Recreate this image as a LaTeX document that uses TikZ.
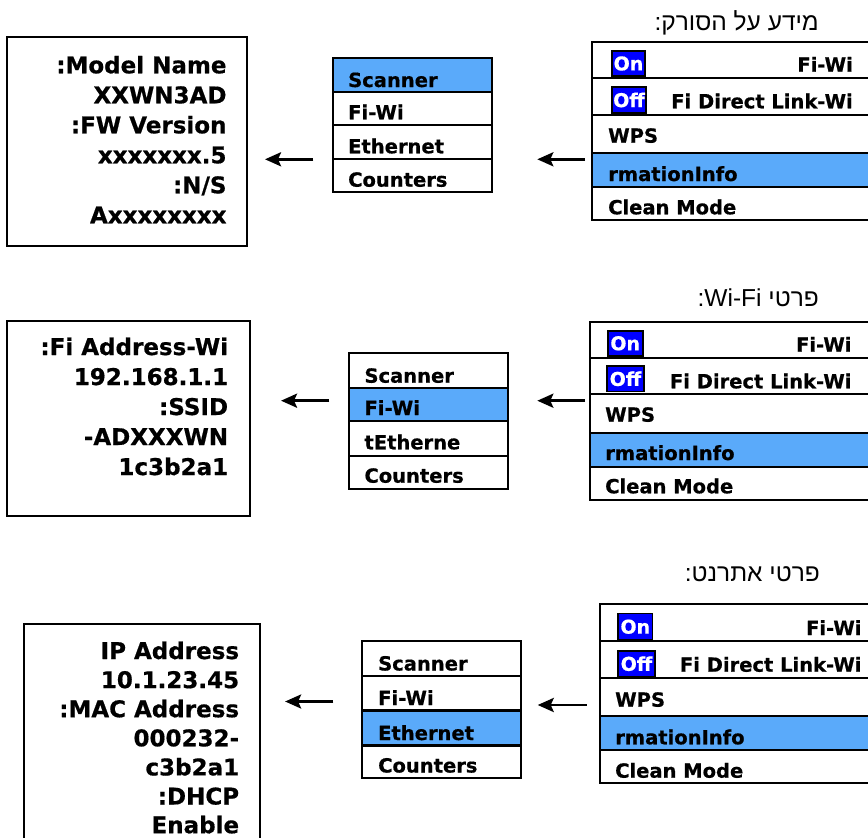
\documentclass[tikz,border=0pt]{standalone}
\usepackage{fontspec}
\setmainfont{DejaVu Sans}[BoldFeatures={FakeBold=0.6}]
\newfontfamily\hebfont[Script=Hebrew]{Liberation Sans}
\TeXXeTstate=1
\usetikzlibrary{arrows.meta}
\definecolor{hl}{RGB}{90,170,250}
\tikzset{
  cell/.style={draw=black,line width=2.3pt,inner sep=0pt,outer sep=0pt},
  mt/.style={inner sep=0pt,font=\bfseries\fontsize{19.5}{20}\selectfont},
  lt/.style={inner sep=0pt,font=\bfseries\fontsize{23}{24}\selectfont,anchor=base east},
  ttl/.style={inner sep=0pt,font=\hebfont\fontsize{24.5}{26}\selectfont,anchor=base east},
  onoff/.style={fill=blue,draw=black,line width=1.6pt,text=white,inner sep=0pt,
    font=\bfseries\fontsize{19}{19}\selectfont},
  arr/.style={line width=2.8pt,-{Stealth[length=16pt,width=14pt,inset=3pt]}}
}
\newcommand\rbox[6]{\node[cell,#6,anchor=north west,minimum width={#4-#2},minimum height={#5-#3}] (#1) at (#2,#3) {};}
\begin{document}
\begin{tikzpicture}[x=1pt,y=-1pt]
\useasboundingbox (0,0) rectangle (868,838);
% ================= Panel 1 =================
\node[ttl] (t1) at (819,30) {\beginR מידע על הסורק:\endR};
\rbox{r1a}{592}{42}{880}{78}{fill=white}
\rbox{r1b}{592}{78}{880}{115}{fill=white}
\rbox{r1c}{592}{115}{880}{153}{fill=white}
\rbox{r1d}{592}{153}{880}{187}{fill=hl}
\rbox{r1e}{592}{187}{880}{220}{fill=white}
\node[onoff,minimum width=33,minimum height=25] (on1) at (628.5,63.5) {On};
\node[onoff,minimum width=34,minimum height=26] (off1) at (629,100) {Off};
\node[mt,anchor=base east] (r1at) at (853,71.7) {Fi-Wi};
\node[mt,anchor=base east] (r1bt) at (853,108.3) {Fi Direct Link-Wi};
\node[mt,anchor=base west] (r1ct) at (608,142.7) {WPS};
\node[mt,anchor=base west] (r1dt) at (608,181) {rmationInfo};
\node[mt,anchor=base west] (r1et) at (608,214.3) {Clean Mode};
% middle
\rbox{m1a}{332.7}{57.7}{492.3}{91.7}{fill=hl}
\rbox{m1b}{332.7}{91.7}{492.3}{125}{fill=white}
\rbox{m1c}{332.7}{125}{492.3}{159}{fill=white}
\rbox{m1d}{332.7}{159}{492.3}{192.3}{fill=white}
\node[mt,anchor=base west] (m1at) at (348,87) {Scanner};
\node[mt,anchor=base west] (m1bt) at (348,119.3) {Fi-Wi};
\node[mt,anchor=base west] (m1ct) at (348,153.3) {Ethernet};
\node[mt,anchor=base west] (m1dt) at (348,186.7) {Counters};
% left
\rbox{l1}{6.7}{37.3}{247.3}{246}{fill=white}
\node[lt] (l1a) at (226.7,73.3) {:Model Name};
\node[lt] (l1b) at (226.7,103.3) {XXWN3AD};
\node[lt] (l1c) at (226.7,133.3) {:FW Version};
\node[lt] (l1d) at (226.7,163.3) {xxxxxxx.5};
\node[lt] (l1e) at (226.7,193.3) {:N/S};
\node[lt] (l1f) at (226.7,223.3) {Axxxxxxxx};
% arrows
\coordinate (a1s) at (585,159.3);
\coordinate (a1e) at (537.3,159.3);
\coordinate (b1s) at (313.3,159.3);
\coordinate (b1e) at (265,159.3);
\draw[arr] (a1s) -- (a1e);
\draw[arr] (b1s) -- (b1e);
% ================= Panel 2 =================
\node[ttl] (t2) at (819,306.7) {\beginR פרטי \beginL Wi-Fi\endL:\endR};
\rbox{r2a}{590}{321.7}{880}{357.7}{fill=white}
\rbox{r2b}{590}{357.7}{880}{394.3}{fill=white}
\rbox{r2c}{590}{394.3}{880}{432.7}{fill=white}
\rbox{r2d}{590}{432.7}{880}{466.7}{fill=hl}
\rbox{r2e}{590}{466.7}{880}{500}{fill=white}
\node[onoff,minimum width=35,minimum height=25] (on2) at (625.2,343.3) {On};
\node[onoff,minimum width=37,minimum height=25.7] (off2) at (625.5,378.8) {Off};
\node[mt,anchor=base east] (r2at) at (851.7,351.7) {Fi-Wi};
\node[mt,anchor=base east] (r2bt) at (851.7,388.3) {Fi Direct Link-Wi};
\node[mt,anchor=base west] (r2ct) at (605,421.7) {WPS};
\node[mt,anchor=base west] (r2dt) at (605,460) {rmationInfo};
\node[mt,anchor=base west] (r2et) at (605,493.3) {Clean Mode};
% middle
\rbox{m2a}{349.3}{353.3}{508.3}{388.3}{fill=white}
\rbox{m2b}{349.3}{388.3}{508.3}{421}{fill=hl}
\rbox{m2c}{349.3}{421}{508.3}{455.7}{fill=white}
\rbox{m2d}{349.3}{455.7}{508.3}{489}{fill=white}
\node[mt,anchor=base west] (m2at) at (364.3,382.7) {Scanner};
\node[mt,anchor=base west] (m2bt) at (364.3,415) {Fi-Wi};
\node[mt,anchor=base west] (m2ct) at (364.3,449.3) {tEtherne};
\node[mt,anchor=base west] (m2dt) at (364.3,482.7) {Counters};
% left
\rbox{l2}{7.3}{320.7}{250}{516}{fill=white}
\node[lt] (l2a) at (228.3,355) {:Fi Address-Wi};
\node[lt] (l2b) at (228.3,385) {192.168.1.1};
\node[lt] (l2c) at (228.3,415) {:SSID};
\node[lt] (l2d) at (228.3,445) {-ADXXXWN};
\node[lt] (l2e) at (228.3,475) {1c3b2a1};
% arrows
\coordinate (a2s) at (585,400.7);
\coordinate (a2e) at (537.3,400.7);
\coordinate (b2s) at (329.3,400.7);
\coordinate (b2e) at (281,400.7);
\draw[arr] (a2s) -- (a2e);
\draw[arr] (b2s) -- (b2e);
% ================= Panel 3 =================
\node[ttl] (t3) at (820,581.7) {\beginR פרטי אתרנט:\endR};
\rbox{r3a}{600}{604.3}{880}{641}{fill=white}
\rbox{r3b}{600}{641}{880}{677.7}{fill=white}
\rbox{r3c}{600}{677.7}{880}{715.7}{fill=white}
\rbox{r3d}{600}{715.7}{880}{750}{fill=hl}
\rbox{r3e}{600}{750}{880}{782.7}{fill=white}
\node[onoff,minimum width=34.7,minimum height=26.7] (on3) at (635.3,626.7) {On};
\node[onoff,minimum width=37,minimum height=26] (off3) at (636.5,663.7) {Off};
\node[mt,anchor=base east] (r3at) at (861.7,635) {Fi-Wi};
\node[mt,anchor=base east] (r3bt) at (861.7,671.7) {Fi Direct Link-Wi};
\node[mt,anchor=base west] (r3ct) at (615,706.7) {WPS};
\node[mt,anchor=base west] (r3dt) at (615,744.3) {rmationInfo};
\node[mt,anchor=base west] (r3et) at (615,777.7) {Clean Mode};
% middle
\rbox{m3a}{362}{641}{521}{676}{fill=white}
\rbox{m3b}{362}{676}{521}{710.5}{fill=white}
\rbox{m3c}{362}{710.5}{521}{745.5}{fill=hl}
\rbox{m3d}{362}{745.5}{521}{778}{fill=white}
\node[mt,anchor=base west] (m3at) at (378,670.5) {Scanner};
\node[mt,anchor=base west] (m3bt) at (378,705) {Fi-Wi};
\node[mt,anchor=base west] (m3ct) at (378,740) {Ethernet};
\node[mt,anchor=base west] (m3dt) at (378,772.5) {Counters};
% left
\rbox{l3}{24}{624}{260}{850}{fill=white}
\node[lt] (l3a) at (239.3,659) {IP Address};
\node[lt] (l3b) at (239.3,688.1) {10.1.23.45};
\node[lt] (l3c) at (239.3,717.2) {:MAC Address};
\node[lt] (l3d) at (239.3,746.3) {000232-};
\node[lt] (l3e) at (239.3,775.4) {c3b2a1};
\node[lt] (l3f) at (239.3,804.5) {:DHCP};
\node[lt] (l3g) at (239.3,833.2) {Enable};
% arrows
\coordinate (a3s) at (586.7,705);
\coordinate (a3e) at (537.7,705);
\coordinate (b3s) at (333.3,701.5);
\coordinate (b3e) at (285.1,701.5);
\draw[arr] (a3s) -- (a3e);
\draw[arr] (b3s) -- (b3e);
\end{tikzpicture}
\end{document}
